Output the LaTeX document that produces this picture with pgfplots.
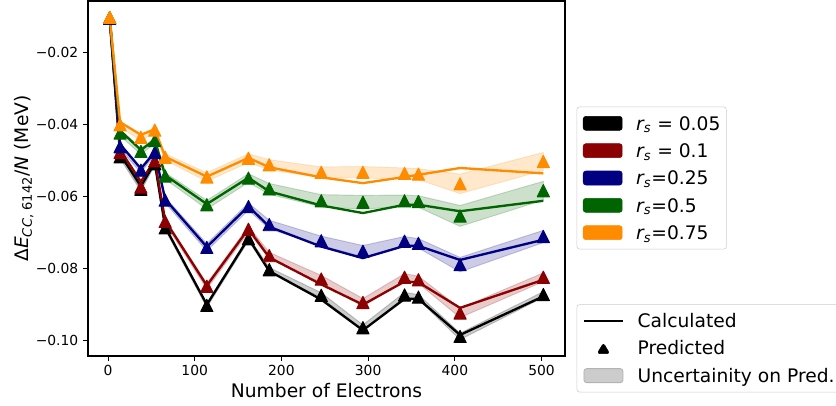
\documentclass[border=0pt]{standalone}
\usepackage{pgfplots}
\usepackage{pgfplotstable}
\usepackage{fontspec}
\setmainfont{DejaVu Sans}
\pgfplotsset{compat=1.18}
\usepgfplotslibrary{fillbetween}

\definecolor{cblack}{RGB}{0,0,0}
\definecolor{cred}{RGB}{139,0,0}
\definecolor{cblue}{RGB}{0,0,128}
\definecolor{cgreen}{RGB}{0,100,0}
\definecolor{corange}{RGB}{255,140,0}

\pgfdeclareplotmark{mtri}{%
  \pgfpathmoveto{\pgfqpoint{0pt}{\pgfplotmarksize}}%
  \pgfpathlineto{\pgfqpoint{-\pgfplotmarksize}{-\pgfplotmarksize}}%
  \pgfpathlineto{\pgfqpoint{\pgfplotmarksize}{-\pgfplotmarksize}}%
  \pgfpathclose
  \pgfusepathqfillstroke}

\pgfplotstableread{
N calc pred unc
2 -0.0104 -0.0105 0.0003
14 -0.0483 -0.0490 0.0005
38 -0.0571 -0.0580 0.0005
54 -0.0507 -0.0509 0.0005
66 -0.0685 -0.0687 0.0005
114 -0.0900 -0.0902 0.0006
162 -0.0716 -0.0717 0.0006
186 -0.0807 -0.0803 0.0006
246 -0.0886 -0.0874 0.0007
294 -0.0971 -0.0964 0.0008
342 -0.0884 -0.0873 0.0007
358 -0.0884 -0.0879 0.0007
406 -0.0984 -0.0988 0.0009
502 -0.0877 -0.0872 0.0008
}\tblack

\pgfplotstableread{
N calc pred unc
2 -0.0104 -0.0105 0.0003
14 -0.0471 -0.0478 0.0006
38 -0.0559 -0.0574 0.0006
54 -0.0499 -0.0501 0.0006
66 -0.0667 -0.0669 0.0006
114 -0.0847 -0.0849 0.0008
162 -0.0690 -0.0691 0.0008
186 -0.0769 -0.0764 0.0009
246 -0.0844 -0.0829 0.0010
294 -0.0900 -0.0894 0.0011
342 -0.0836 -0.0824 0.0010
358 -0.0838 -0.0831 0.0010
406 -0.0909 -0.0923 0.0013
502 -0.0831 -0.0824 0.0012
}\tred

\pgfplotstableread{
N calc pred unc
2 -0.0104 -0.0106 0.0003
14 -0.0455 -0.0462 0.0007
38 -0.0523 -0.0527 0.0007
54 -0.0477 -0.0478 0.0007
66 -0.0608 -0.0610 0.0008
114 -0.0740 -0.0741 0.0010
162 -0.0627 -0.0628 0.0010
186 -0.0684 -0.0678 0.0012
246 -0.0739 -0.0723 0.0013
294 -0.0771 -0.0752 0.0016
342 -0.0737 -0.0724 0.0013
358 -0.0737 -0.0730 0.0013
406 -0.0776 -0.0789 0.0020
502 -0.0720 -0.0711 0.0017
}\tblue

\pgfplotstableread{
N calc pred unc
2 -0.0104 -0.0104 0.0003
14 -0.0417 -0.0424 0.0008
38 -0.0471 -0.0475 0.0008
54 -0.0443 -0.0445 0.0008
66 -0.0541 -0.0543 0.0009
114 -0.0621 -0.0623 0.0012
162 -0.0548 -0.0549 0.0012
186 -0.0586 -0.0579 0.0015
246 -0.0625 -0.0612 0.0017
294 -0.0646 -0.0616 0.0019
342 -0.0623 -0.0612 0.0016
358 -0.0623 -0.0614 0.0016
406 -0.0641 -0.0654 0.0029
502 -0.0612 -0.0584 0.0026
}\tgreen

\pgfplotstableread{
N calc pred unc
2 -0.0103 -0.0103 0.0003
14 -0.0394 -0.0401 0.0008
38 -0.0429 -0.0436 0.0008
54 -0.0414 -0.0416 0.0008
66 -0.0490 -0.0491 0.0009
114 -0.0545 -0.0546 0.0012
162 -0.0493 -0.0494 0.0012
186 -0.0519 -0.0512 0.0014
246 -0.0547 -0.0533 0.0015
294 -0.0563 -0.0533 0.0016
342 -0.0546 -0.0536 0.0015
358 -0.0540 -0.0538 0.0015
406 -0.0521 -0.0565 0.0027
502 -0.0536 -0.0503 0.0025
}\torange

\tikzset{
  legbox/.style={
    draw=black!20, rounded corners=2pt, fill=white, text=black,
    font=\fontsize{14}{17}\selectfont,
    inner xsep=4.5pt, inner ysep=5.3pt, row sep=6.5pt, column sep=10.3pt,
    nodes={inner sep=0pt, text height=12pt, text depth=2pt},
  },
}
\pgfplotsset{
  band/.style={fill=#1, fill opacity=0.2, draw=#1, draw opacity=0.2, line width=0.7pt, forget plot},
  calc/.style={#1, line width=1.75pt, forget plot},
  pred/.style={#1, only marks, mark=mtri, mark size=4.6pt, mark options={line width=0.7pt}, forget plot},
}
\newcommand{\rs}{{\itshape r}\textsubscript{\itshape s}}

\begin{document}
\begin{tikzpicture}
\begin{axis}[
  scale only axis,
  width=357.75pt, height=266.25pt,
  xmin=-23, xmax=527,
  ymin=-0.10424, ymax=-0.00579,
  xtick={0,100,200,300,400,500},
  ytick={-0.10,-0.08,-0.06,-0.04,-0.02},
  yticklabels={−0.10,−0.08,−0.06,−0.04,−0.02},
  /pgf/number format/assume math mode=true,
  xtick pos=bottom, ytick pos=left,
  tick align=outside,
  major tick length=3.75pt,
  tick style={black, line width=0.6pt},
  axis line style={line width=0.8pt},
  ticklabel style={font=\fontsize{10.4}{12}\selectfont},
  xlabel={Number of Electrons},
  ylabel={Δ\textit{E}\textsubscript{\textit{CC}, 6142}/\textit{N} (MeV)},
  label style={font=\fontsize{14}{17}\selectfont},
  xlabel style={at={(axis description cs:0.5,-0.0986)}, anchor=center},
  ylabel style={at={(axis description cs:-0.134,0.5)}, anchor=center, rotate=0},
  legend cell align=left,
  legend style={legbox, at={(1.0245,0.7023)}, anchor=north west},
  line join=round,
]
% black
\addplot[draw=none, forget plot, name path=kh] table[x=N, y expr=\thisrow{pred}+\thisrow{unc}] {\tblack};
\addplot[draw=none, forget plot, name path=kl] table[x=N, y expr=\thisrow{pred}-\thisrow{unc}] {\tblack};
\addplot[band=cblack] fill between[of=kh and kl];
\addplot[calc=cblack] table[x=N, y=calc] {\tblack};
\addplot[pred=cblack] table[x=N, y=pred] {\tblack};
% red
\addplot[draw=none, forget plot, name path=rh] table[x=N, y expr=\thisrow{pred}+\thisrow{unc}] {\tred};
\addplot[draw=none, forget plot, name path=rl] table[x=N, y expr=\thisrow{pred}-\thisrow{unc}] {\tred};
\addplot[band=cred] fill between[of=rh and rl];
\addplot[calc=cred] table[x=N, y=calc] {\tred};
\addplot[pred=cred] table[x=N, y=pred] {\tred};
% blue
\addplot[draw=none, forget plot, name path=bh] table[x=N, y expr=\thisrow{pred}+\thisrow{unc}] {\tblue};
\addplot[draw=none, forget plot, name path=bl] table[x=N, y expr=\thisrow{pred}-\thisrow{unc}] {\tblue};
\addplot[band=cblue] fill between[of=bh and bl];
\addplot[calc=cblue] table[x=N, y=calc] {\tblue};
\addplot[pred=cblue] table[x=N, y=pred] {\tblue};
% green
\addplot[draw=none, forget plot, name path=gh] table[x=N, y expr=\thisrow{pred}+\thisrow{unc}] {\tgreen};
\addplot[draw=none, forget plot, name path=gl] table[x=N, y expr=\thisrow{pred}-\thisrow{unc}] {\tgreen};
\addplot[band=cgreen] fill between[of=gh and gl];
\addplot[calc=cgreen] table[x=N, y=calc] {\tgreen};
\addplot[pred=cgreen] table[x=N, y=pred] {\tgreen};
% orange
\addplot[draw=none, forget plot, name path=oh] table[x=N, y expr=\thisrow{pred}+\thisrow{unc}] {\torange};
\addplot[draw=none, forget plot, name path=ol] table[x=N, y expr=\thisrow{pred}-\thisrow{unc}] {\torange};
\addplot[band=corange] fill between[of=oh and ol];
\addplot[calc=corange] table[x=N, y=calc] {\torange};
\addplot[pred=corange] table[x=N, y=pred] {\torange};

\addlegendimage{legend image code/.code={\fill[cblack] (0pt,-5.25pt) rectangle (29.25pt,5.25pt);}}
\addlegendentry{\rs{} = 0.05}
\addlegendimage{legend image code/.code={\fill[cred] (0pt,-5.25pt) rectangle (29.25pt,5.25pt);}}
\addlegendentry{\rs{} = 0.1}
\addlegendimage{legend image code/.code={\fill[cblue] (0pt,-5.25pt) rectangle (29.25pt,5.25pt);}}
\addlegendentry{\rs{}=0.25}
\addlegendimage{legend image code/.code={\fill[cgreen] (0pt,-5.25pt) rectangle (29.25pt,5.25pt);}}
\addlegendentry{\rs{}=0.5}
\addlegendimage{legend image code/.code={\fill[corange] (0pt,-5.25pt) rectangle (29.25pt,5.25pt);}}
\addlegendentry{\rs{}=0.75}
\end{axis}

\begin{axis}[
  scale only axis, hide axis,
  width=357.75pt, height=266.25pt,
  xmin=0, xmax=1, ymin=0, ymax=1,
  legend cell align=left,
  legend style={legbox, at={(1.0245,0.1456)}, anchor=north west},
]
\addplot[draw=none, forget plot] coordinates {(0,0) (1,1)};
\addlegendimage{legend image code/.code={\draw[black, line width=1.5pt] (0pt,0pt) -- (29.25pt,0pt);}}
\addlegendentry{Calculated}
\addlegendimage{legend image code/.code={\fill[black] (14.6pt,4pt) -- (9.9pt,-4pt) -- (19.3pt,-4pt) -- cycle;}}
\addlegendentry{Predicted}
\addlegendimage{legend image code/.code={\filldraw[fill=black!20, draw=black!30, line width=0.6pt] (0pt,-5.25pt) rectangle (29.25pt,5.25pt);}}
\addlegendentry{Uncertainity on Pred.}
\end{axis}
\pgfresetboundingbox
\path[use as bounding box] (-66pt,-37.5pt) rectangle (561pt,267pt);
\end{tikzpicture}
\end{document}
